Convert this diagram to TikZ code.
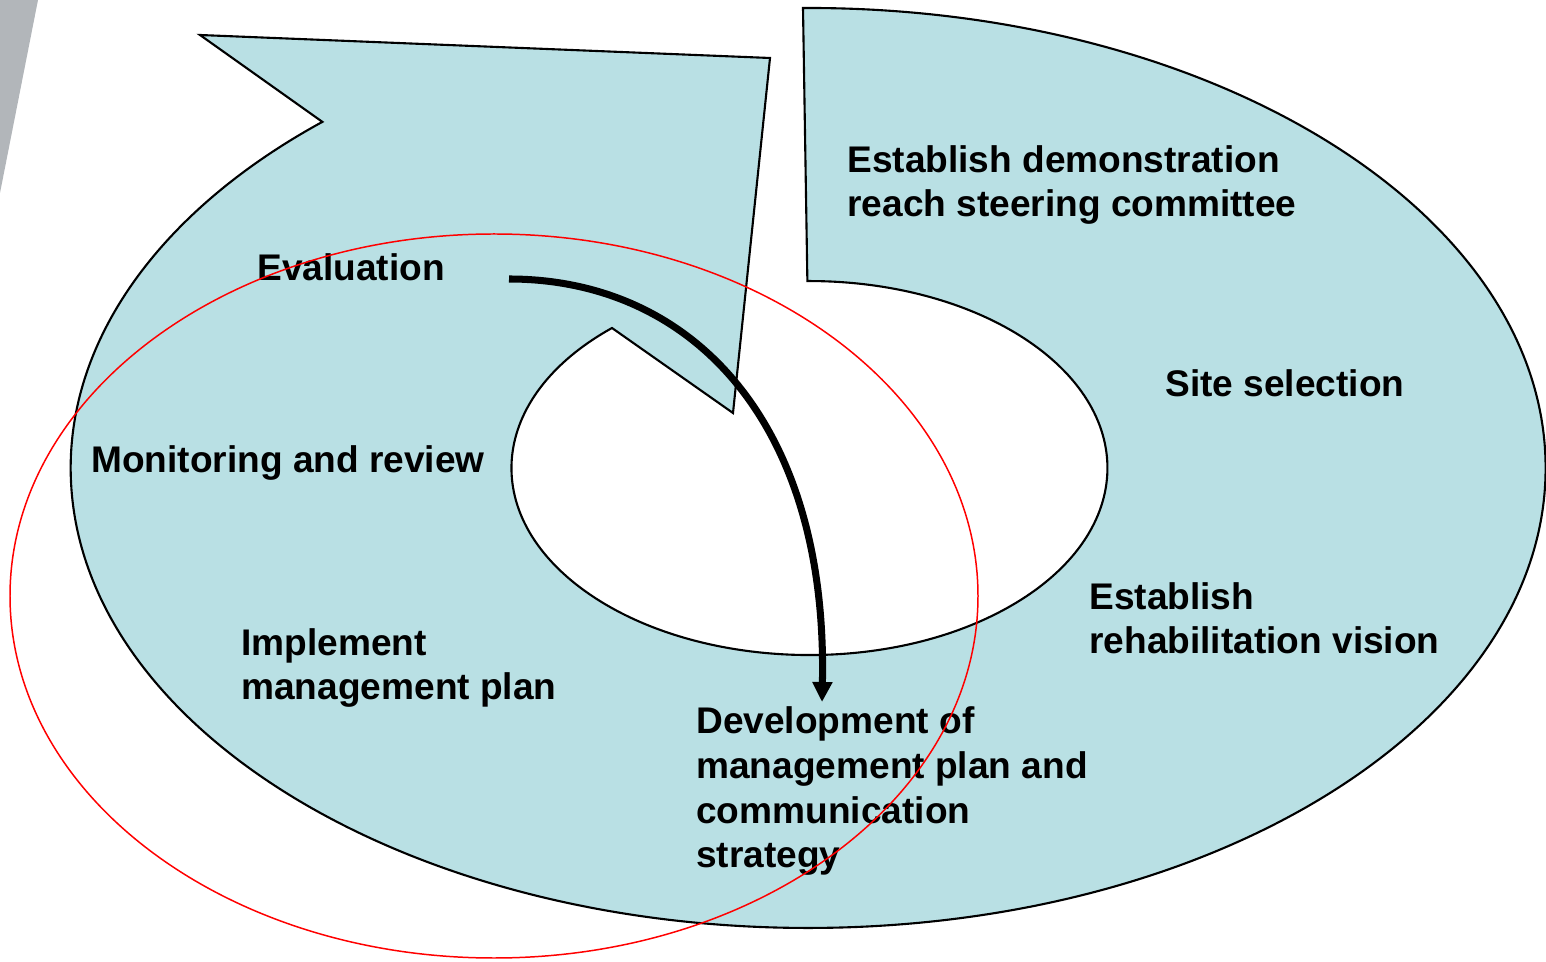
\documentclass[tikz,border=0pt]{standalone}
\usepackage{fontspec}
\setmainfont{Liberation Sans}
\usetikzlibrary{arrows.meta}
\definecolor{ringblue}{RGB}{185,224,228}
\definecolor{edgegrey}{RGB}{178,182,186}

\begin{document}
\begin{tikzpicture}[x=0.02cm, y=0.02cm,
    lbl/.style={anchor=base west, inner sep=0pt, align=left,
        font=\fontsize{21.1}{25.6}\selectfont\bfseries}]

    \useasboundingbox (0,0) rectangle (1546,961);
    \fill[edgegrey] (0,961) -- (38,961) -- (0,768) -- cycle;

% ring with arrow head
\draw[fill=ringblue, line width=1.2pt, line join=miter]
    (803,953) arc[start angle=90.4, end angle=-228.8, x radius=737.5, y radius=460]
    -- (200,926) -- (770,903) -- (733,548) -- (612,633)
    arc[start angle=131.5, end angle=450.4, x radius=298, y radius=187] -- cycle;

% base = last line
\node[lbl] (steer) at (847,744) {Establish demonstration\\reach steering committee};
\node[lbl] (eval) at (257,680) {Evaluation};
\node[lbl] (site) at (1165,564) {Site selection};
\node[lbl] (monit) at (91,488) {Monitoring and review};
\node[lbl] (vision) at (1089,307) {Establish\\rehabilitation vision};
\node[lbl] (impl) at (241,261) {Implement\\management plan};
\node[lbl] (devel) at (696,93) {Development of\\management plan and\\communication\\strategy};

\coordinate (arrowstart) at (509,682);
\coordinate (arrowend) at (822,259);
\draw[-{Triangle[width=0.38cm,length=0.4cm]}, line width=4pt]
    (arrowstart) .. controls (690,682) and (828,541) .. (arrowend);

\draw[color=red, line width=0.85pt] (494,365) ellipse[x radius=484, y radius=362];
\end{tikzpicture}
\end{document}
